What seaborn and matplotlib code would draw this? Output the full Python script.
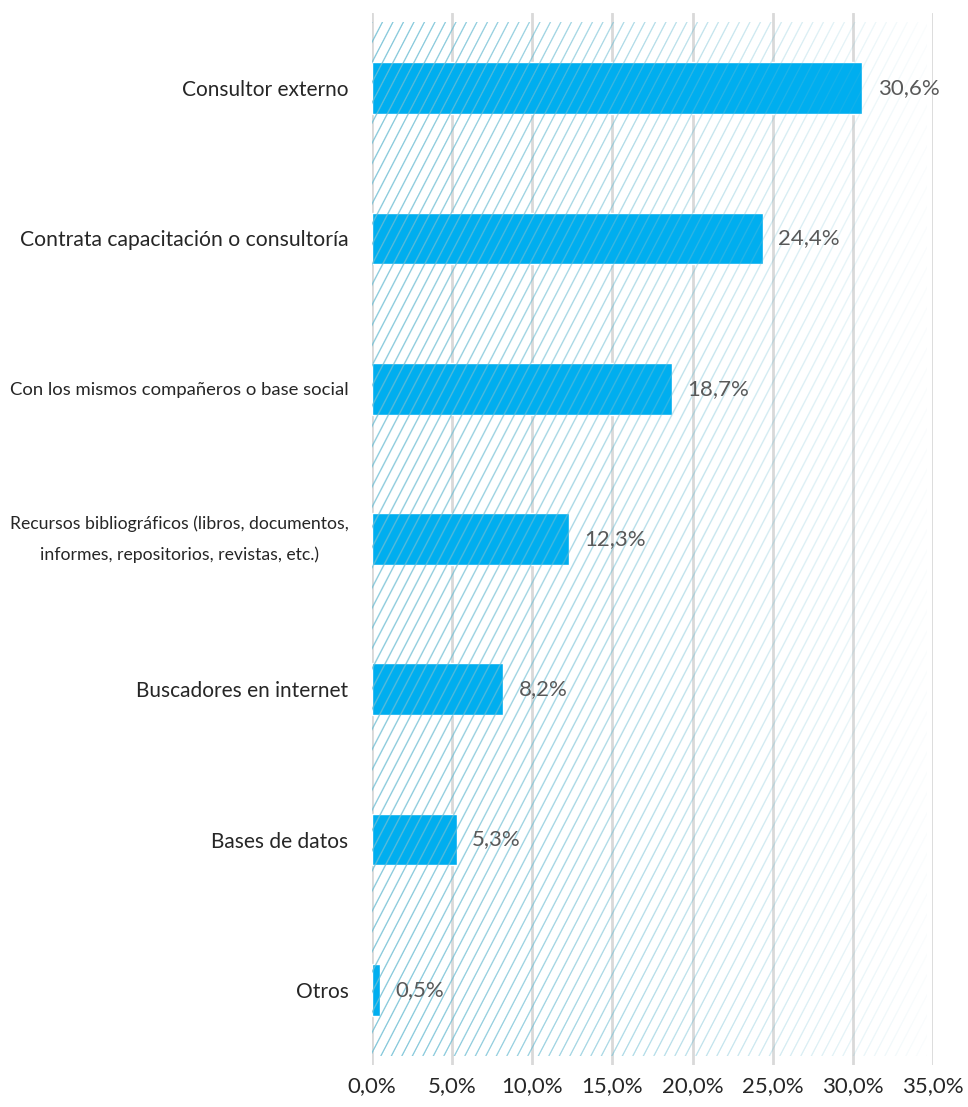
import numpy as np
import pandas as pd
import matplotlib
matplotlib.use("Agg")
import matplotlib.pyplot as plt
import seaborn as sns

# Sources consulted (share of responses, %)
categories = [
    "Consultor externo",
    "Contrata capacitación o consultoría",
    "Con los mismos compañeros o base social",
    "Recursos bibliográficos (libros, documentos,\ninformes, repositorios, revistas, etc.)",
    "Buscadores en internet",
    "Bases de datos",
    "Otros",
]
values = [30.6, 24.4, 18.7, 12.3, 8.2, 5.3, 0.5]
x_ticks = [0, 5, 10, 15, 20, 25, 30, 35]
x_tick_labels = ["0,0%", "5,0%", "10,0%", "15,0%", "20,0%", "25,0%", "30,0%", "35,0%"]

df = pd.DataFrame({"fuente": categories, "pct": values})

sns.set_theme(style="white")
FONT = ["Lato", "DejaVu Sans"]
plt.rcParams["font.family"] = FONT

W, H = 968, 1107
fig = plt.figure(figsize=(W / 100, H / 100), dpi=100)
ax_left, ax_right = 372 / W, 933 / W
ax_top, ax_bottom = 13 / H, 1065 / H
ax = fig.add_axes([ax_left, 1 - ax_bottom, ax_right - ax_left, ax_bottom - ax_top])

sns.barplot(data=df, y="fuente", x="pct", orient="h", color="#00AEEF",
            width=0.345, saturation=1, ax=ax, zorder=2)

# vertical gridlines
for t in x_ticks:
    ax.axvline(t, color="#d9d9d9", lw=2, zorder=1)

# diagonal hatched backdrop, fading from left to right
hatch_right = 34.6
y_top, y_bot = -0.434, 6.44
px_w = int(round(hatch_right / 35 * (933 - 372)))
px_h = int(round((y_bot - y_top) / 7 * (1065 - 13)))
xx, yy = np.meshgrid(np.arange(px_w) + 0.5, np.arange(px_h) + 0.5)
k = 0.52
spacing = 10.5
u = (xx + k * yy) % spacing
d = np.minimum(u, spacing - u) / np.sqrt(1 + k * k)
intensity = np.clip(1.15 - d, 0, 1)
fade = np.clip(0.85 - 0.82 * (xx / px_w) ** 1.3, 0.04, 1)
rgba = np.zeros((px_h, px_w, 4))
rgba[..., 0] = 110 / 255
rgba[..., 1] = 190 / 255
rgba[..., 2] = 212 / 255
rgba[..., 3] = intensity * fade
ax.imshow(rgba, extent=(0, hatch_right, y_bot, y_top), origin="upper",
          aspect="auto", interpolation="bilinear", zorder=3)
ax.set_xlim(0, 35)
ax.set_ylim(6.5, -0.5)

# value labels
for i, v in enumerate(values):
    ax.text(v + 0.95, i, f"{v:.1f}%".replace(".", ","), va="center", ha="left",
            fontsize=16, color="#595959", zorder=4)

ax.set_xticks(x_ticks)
ax.set_xticklabels(x_tick_labels, fontsize=16, color="#262626")
ax.set_xlabel("")
ax.set_ylabel("")
ax.tick_params(axis="x", length=0, pad=8)
ax.tick_params(axis="y", length=0, pad=17)
label_sizes = [15, 15.2, 13.3, 12.7, 15, 15, 15]
for lab, fs in zip(ax.get_yticklabels(), label_sizes):
    lab.set_color("#262626")
    lab.set_fontsize(fs)
    lab.set_multialignment("center")
    lab.set_linespacing(2.05)
    if "\n" in lab.get_text():
        lab.set_verticalalignment("center")

for s in ax.spines.values():
    s.set_visible(False)
ax.set_facecolor("white")

fig.savefig("out.png", dpi=100, facecolor="white")
